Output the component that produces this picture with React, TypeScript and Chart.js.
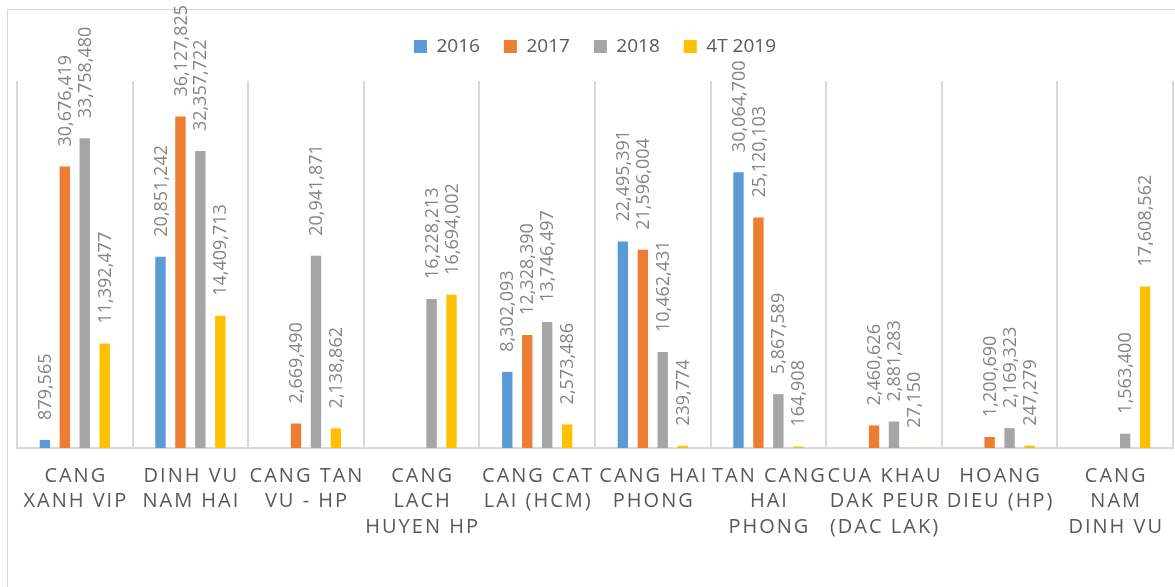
import React, { useEffect, useRef } from "react";
import { Chart, registerables } from "chart.js";

Chart.register(...registerables);

const categories: string[][] = [
  ["CANG", "XANH VIP"],
  ["DINH VU", "NAM HAI"],
  ["CANG TAN", "VU - HP"],
  ["CANG", "LACH", "HUYEN HP"],
  ["CANG CAT", "LAI (HCM)"],
  ["CANG HAI", "PHONG"],
  ["TAN CANG", "HAI", "PHONG"],
  ["CUA KHAU", "DAK PEUR", "(DAC LAK)"],
  ["HOANG", "DIEU (HP)"],
  ["CANG", "NAM", "DINH VU"],
];

const seriesNames = ["2016", "2017", "2018", "4T 2019"];

const values2016: (number | null)[] = [879565, 20851242, null, null, 8302093, 22495391, 30064700, null, null, null];
const values2017: (number | null)[] = [30676419, 36127825, 2669490, null, 12328390, 21596004, 25120103, 2460626, 1200690, null];
const values2018: (number | null)[] = [33758480, 32357722, 20941871, 16228213, 13746497, 10462431, 5867589, 2881283, 2169323, 1563400];
const values2019: (number | null)[] = [11392477, 14409713, 2138862, 16694002, 2573486, 239774, 164908, 27150, 247279, 17608562];

const colors = ["#5B9BD5", "#ED7D31", "#A5A5A5", "#FFC000"];

const FONT = "'Open Sans', 'DejaVu Sans', sans-serif";

const labelPlugin = {
  id: "valueLabels",
  beforeInit(chart: any) {
    const lg = chart.legend;
    if (lg && !lg.__patched) {
      const orig = lg.fit.bind(lg);
      lg.fit = function () {
        orig();
        this.height += 15;
      };
      lg.__patched = true;
    }
  },
  afterDatasetsDraw(chart: any) {
    const ctx = chart.ctx;
    ctx.save();
    ctx.font = `18px ${FONT}`;
    ctx.fillStyle = "#858585";
    ctx.textAlign = "left";
    ctx.textBaseline = "middle";
    chart.data.datasets.forEach((ds: any, di: number) => {
      const meta = chart.getDatasetMeta(di);
      meta.data.forEach((bar: any, i: number) => {
        const v = ds.data[i];
        if (v === null || v === undefined) return;
        ctx.save();
        ctx.translate(bar.x, bar.y - 20);
        ctx.rotate(-Math.PI / 2);
        ctx.fillText(Number(v).toLocaleString("en-US"), 0, 1);
        ctx.restore();
      });
    });
    ctx.restore();
  },
  afterDraw(chart: any) {
    const ctx = chart.ctx;
    const xs = chart.scales.x;
    ctx.save();
    ctx.font = `20px ${FONT}`;
    ctx.fillStyle = "#595959";
    ctx.textAlign = "center";
    ctx.textBaseline = "middle";
    try {
      (ctx as any).letterSpacing = "2px";
    } catch (e) {}
    categories.forEach((lines, i) => {
      const x = xs.getPixelForValue(i);
      lines.forEach((line, li) => {
        ctx.fillText(line, x + 1, chart.chartArea.bottom + 28 + li * 25.5);
      });
    });
    ctx.restore();
  },
};

export default function App() {
  const ref = useRef<HTMLCanvasElement | null>(null);
  useEffect(() => {
    if (!ref.current) return;
    const series = [values2016, values2017, values2018, values2019];
    const chart = new Chart(ref.current, {
      type: "bar",
      data: {
        labels: categories.map((c) => c.join(" ")),
        datasets: series.map((data, i) => ({
          label: seriesNames[i],
          data,
          backgroundColor: colors[i],
          borderWidth: 0,
          barPercentage: 0.52,
          categoryPercentage: 0.69,
        })),
      },
      options: {
        animation: false,
        responsive: false,
        maintainAspectRatio: false,
        layout: { padding: { left: 17, right: 2, top: 13, bottom: 0 } },
        plugins: {
          tooltip: { enabled: false },
          legend: {
            display: true,
            position: "top",
            labels: {
              boxWidth: 13,
              boxHeight: 13,
              padding: 24,
              color: "#595959",
              font: { family: FONT, size: 19 },
            },
          },
        },
        scales: {
          x: {
            grid: {
              display: true,
              offset: true,
              color: "#d9d9d9",
              lineWidth: 2,
              drawTicks: false,
            },
            border: { display: true, color: "#d9d9d9", width: 2 },
            ticks: { display: false },
            afterFit: (scale: any) => {
              scale.height = 139;
            },
          },
          y: {
            display: false,
            min: 0,
            max: 40000000,
            grid: { display: false },
          },
        },
      },
      plugins: [labelPlugin],
    });
    return () => chart.destroy();
  }, []);

  return (
    <div style={{ position: "fixed", left: 0, top: 0, width: 1175, height: 587, background: "#fff", overflow: "hidden" }}>
      <div
        style={{
          position: "absolute",
          left: 7,
          top: 9,
          width: 1300,
          height: 700,
          border: "1px solid #d9d9d9",
          boxSizing: "border-box",
        }}
      />
      <canvas ref={ref} width={1175} height={587} style={{ position: "absolute", left: 0, top: 0, width: 1175, height: 587 }} />
    </div>
  );
}
